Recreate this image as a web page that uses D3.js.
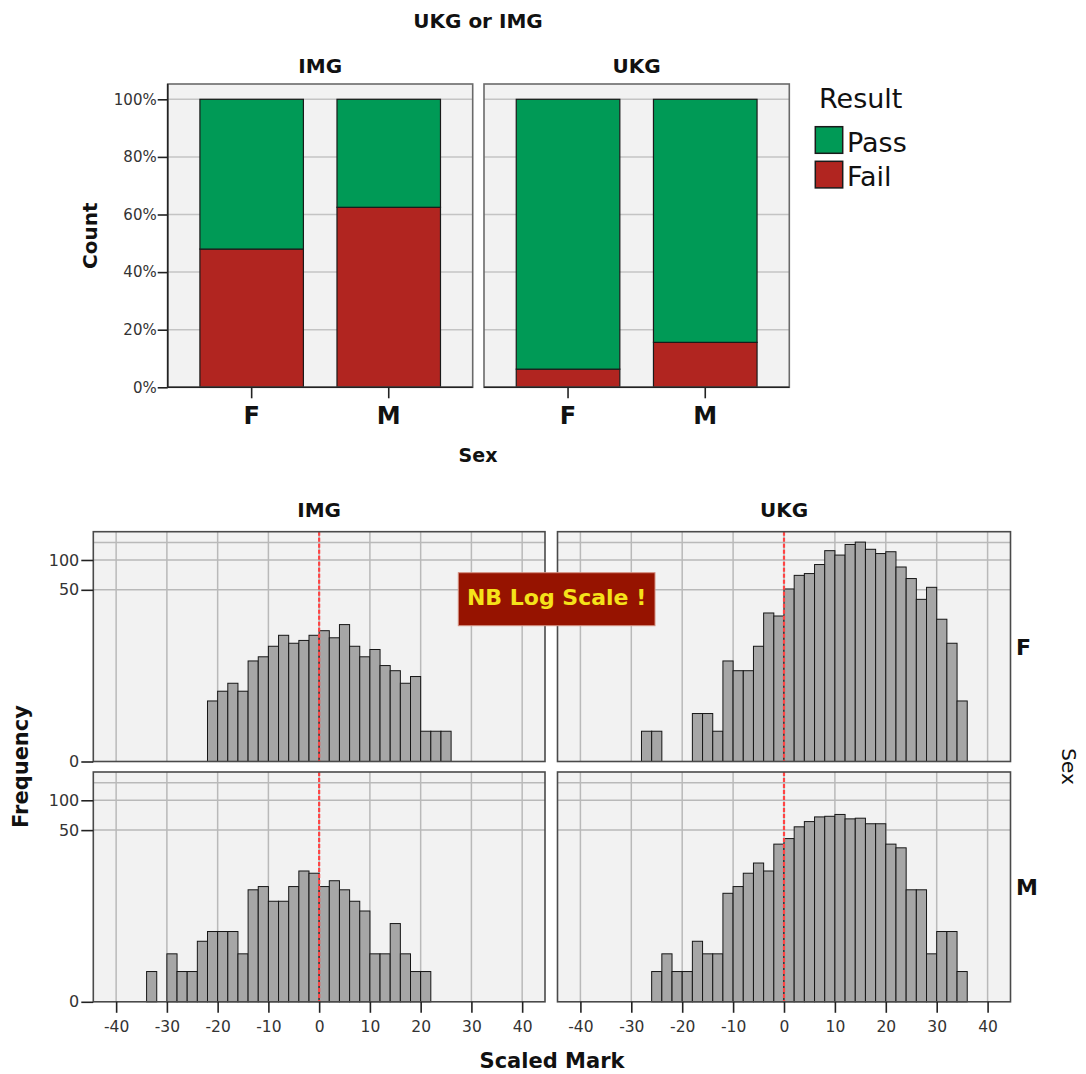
<!DOCTYPE html>
<html>
<head>
<meta charset="utf-8">
<script src="https://cdn.jsdelivr.net/npm/d3@7"></script>
<style>
  html, body { margin: 0; padding: 0; background: #ffffff; }
  svg { display: block; }
  text { font-family: "DejaVu Sans", "Liberation Sans", sans-serif; }
</style>
</head>
<body>
<svg id="chart" width="1086" height="1074"></svg>
<script>
// ---------- Stacked 100% bars: Result by Sex, faceted by UKG / IMG ----------
const groups = ["IMG", "UKG"];
const sexes = ["F", "M"];
const results = ["Pass", "Fail"];
const resultColors = ["#009a56", "#b12520"];
const failShareIMG = [0.48, 0.625];
const failShareUKG = [0.063, 0.156];
const percentTicks = [0, 0.2, 0.4, 0.6, 0.8, 1];
const percentLabels = ["0%", "20%", "40%", "60%", "80%", "100%"];

// ---------- Histograms of Scaled Mark (bins of width 2, lower edges) ----------
const binStarts = [-34, -32, -30, -28, -26, -24, -22, -20, -18, -16, -14, -12, -10, -8, -6, -4, -2,
                   0, 2, 4, 6, 8, 10, 12, 14, 16, 18, 20, 22, 24, 26, 28, 30, 32, 34];
const countsIMG_F = [0, 0, 0, 0, 0, 0, 3, 4, 5, 4, 9, 10, 13, 17, 14, 15, 17,
                     19, 16, 22, 13, 10, 12, 8, 7, 5, 6, 1, 1, 1, 0, 0, 0, 0, 0];
const countsUKG_F = [0, 0, 0, 1, 1, 0, 0, 0, 2, 2, 1, 9, 7, 7, 13, 29, 27,
                     51, 70, 73, 90, 124, 112, 143, 151, 128, 116, 121, 85, 65, 40, 53, 25, 14, 3];
const countsIMG_M = [1, 0, 2, 1, 1, 3, 4, 4, 4, 2, 12, 13, 9, 9, 13, 19, 18,
                     13, 15, 12, 9, 7, 2, 2, 5, 2, 1, 1, 0, 0, 0, 0, 0, 0, 0];
const countsUKG_M = [0, 0, 0, 0, 1, 2, 1, 1, 3, 2, 2, 11, 13, 18, 23, 19, 36,
                     41, 54, 61, 68, 69, 72, 65, 66, 58, 58, 36, 33, 12, 12, 2, 4, 4, 1];
const markTicks = [-40, -30, -20, -10, 0, 10, 20, 30, 40];
const markLabels = ["-40", "-30", "-20", "-10", "0", "10", "20", "30", "40"];
const freqTicks = [0, 50, 100];
const freqLabels = ["0", "50", "100"];
const freqGrid = [50, 100, 150];
const passMark = 0;

const svg = d3.select("#chart");
const PANEL_BG = "#f2f2f2";
const FRAME = "#4a4a4a";
const GRID = "#c4c4c4";

// ================= Top chart =================
const topY0 = 84, topY1 = 387.3;
const yPct = d3.scaleLinear().domain([0, 1]).range([topY1, 99.3]);
const topPanels = [
  { name: groups[0], x0: 167.7, x1: 472.7, fail: failShareIMG },
  { name: groups[1], x0: 484, x1: 789.3, fail: failShareUKG }
];

svg.append("text")
  .attr("x", 478).attr("y", 28)
  .attr("text-anchor", "middle")
  .attr("font-size", 20).attr("font-weight", "bold").attr("fill", "#111")
  .text("UKG or IMG");

topPanels.forEach((p, pi) => {
  const xb = d3.scaleBand().domain(sexes).range([p.x0, p.x1])
    .paddingInner(0.245).paddingOuter(0.235);
  const g = svg.append("g");

  g.append("rect")
    .attr("x", p.x0).attr("y", topY0)
    .attr("width", p.x1 - p.x0).attr("height", topY1 - topY0)
    .attr("fill", PANEL_BG);

  g.selectAll("line.grid").data(percentTicks.slice(1)).join("line")
    .attr("x1", p.x0).attr("x2", p.x1)
    .attr("y1", d => yPct(d)).attr("y2", d => yPct(d))
    .attr("stroke", GRID).attr("stroke-width", 1.5);

  const stacks = sexes.map((s, i) => ({ sex: s, fail: p.fail[i] }));
  // Fail segment at the bottom, Pass above it
  g.selectAll("rect.fail").data(stacks).join("rect")
    .attr("x", d => xb(d.sex)).attr("width", xb.bandwidth())
    .attr("y", d => yPct(d.fail)).attr("height", d => yPct(0) - yPct(d.fail))
    .attr("fill", resultColors[1]).attr("stroke", "#1a1a1a").attr("stroke-width", 1.2);
  g.selectAll("rect.pass").data(stacks).join("rect")
    .attr("x", d => xb(d.sex)).attr("width", xb.bandwidth())
    .attr("y", yPct(1)).attr("height", d => yPct(d.fail) - yPct(1))
    .attr("fill", resultColors[0]).attr("stroke", "#1a1a1a").attr("stroke-width", 1.2);

  g.append("rect")
    .attr("x", p.x0).attr("y", topY0)
    .attr("width", p.x1 - p.x0).attr("height", topY1 - topY0)
    .attr("fill", "none").attr("stroke", "#6a6a6a").attr("stroke-width", 1.6);

  // category axis
  const xa = g.append("g").attr("transform", `translate(0,${topY1})`)
    .call(d3.axisBottom(xb).tickSize(11).tickPadding(9).tickSizeOuter(0));
  xa.select(".domain").attr("stroke", "#222").attr("stroke-width", 1.6)
    .attr("d", `M${p.x0},0H${p.x1}`);
  xa.selectAll(".tick line").attr("stroke", "#222").attr("stroke-width", 1.6);
  xa.selectAll(".tick text").attr("font-size", 24).attr("font-weight", "bold")
    .attr("fill", "#111").attr("font-family", "DejaVu Sans, sans-serif");

  if (pi === 0) {
    const ya = g.append("g").attr("transform", `translate(${p.x0},0)`)
      .call(d3.axisLeft(yPct).tickValues(percentTicks)
        .tickFormat((d, i) => percentLabels[i]).tickSize(10).tickPadding(1).tickSizeOuter(0));
    ya.select(".domain").attr("stroke", "#222").attr("stroke-width", 1.6)
      .attr("d", `M0,${topY0}V${topY1}`);
    ya.selectAll(".tick line").attr("stroke", "#222").attr("stroke-width", 1.6);
    ya.selectAll(".tick text").attr("font-size", 15).attr("fill", "#333")
      .attr("font-family", "DejaVu Sans, sans-serif");
  }

  g.append("text")
    .attr("x", (p.x0 + p.x1) / 2).attr("y", 72.5)
    .attr("text-anchor", "middle")
    .attr("font-size", 20).attr("font-weight", "bold").attr("fill", "#111")
    .text(p.name);
});

svg.append("text")
  .attr("transform", `translate(96.5,${(topY0 + topY1) / 2}) rotate(-90)`)
  .attr("text-anchor", "middle")
  .attr("font-size", 20).attr("font-weight", "bold").attr("fill", "#111")
  .text("Count");

svg.append("text")
  .attr("x", 478).attr("y", 461.5)
  .attr("text-anchor", "middle")
  .attr("font-size", 19).attr("font-weight", "bold").attr("fill", "#111")
  .text("Sex");

// legend
const legend = svg.append("g");
legend.append("text")
  .attr("x", 819).attr("y", 108.3)
  .attr("font-size", 27).attr("fill", "#111")
  .text("Result");
results.forEach((r, i) => {
  const y = 126.7 + i * 34.6;
  legend.append("rect")
    .attr("x", 815.3).attr("y", y).attr("width", 27.4).attr("height", 26.6)
    .attr("fill", resultColors[i]).attr("stroke", "#1a1a1a").attr("stroke-width", 1.5);
  legend.append("text")
    .attr("x", 847).attr("y", y + 25)
    .attr("font-size", 27).attr("fill", "#111")
    .text(r);
});

// ================= Histograms =================
const colsX = [[93.3, 545], [557.5, 1010.5]];
const rowsY = [531.7, 772];
const rowH = 229.8;
const rowSex = ["F", "M"];
const panelCounts = [[countsIMG_F, countsUKG_F], [countsIMG_M, countsUKG_M]];

const yFreq = d3.scaleSymlog().constant(1).domain([0, 192]).range([rowH, 0]);

rowsY.forEach((ry, ri) => {
  colsX.forEach((cx, ci) => {
    const x = d3.scaleLinear().domain([-44.5, 44.5]).range(cx);
    const g = svg.append("g").attr("transform", `translate(0,${ry})`);
    const counts = panelCounts[ri][ci];
    const bins = binStarts.map((b, i) => ({ x0: b, x1: b + 2, n: counts[i] }))
      .filter(d => d.n > 0);

    g.append("rect")
      .attr("x", cx[0]).attr("y", 0)
      .attr("width", cx[1] - cx[0]).attr("height", rowH)
      .attr("fill", PANEL_BG);

    g.selectAll("line.vgrid").data(markTicks).join("line")
      .attr("x1", d => x(d)).attr("x2", d => x(d))
      .attr("y1", 0).attr("y2", rowH)
      .attr("stroke", "#b9b9b9").attr("stroke-width", 1.5);
    g.selectAll("line.hgrid").data(freqGrid).join("line")
      .attr("x1", cx[0]).attr("x2", cx[1])
      .attr("y1", d => yFreq(d)).attr("y2", d => yFreq(d))
      .attr("stroke", "#b9b9b9").attr("stroke-width", 1.5);

    g.selectAll("rect.bar").data(bins).join("rect")
      .attr("x", d => x(d.x0)).attr("width", d => x(d.x1) - x(d.x0))
      .attr("y", d => yFreq(d.n)).attr("height", d => yFreq(0) - yFreq(d.n))
      .attr("fill", "#a6a6a6").attr("stroke", "#161616").attr("stroke-width", 1);

    g.append("line")
      .attr("x1", x(passMark)).attr("x2", x(passMark))
      .attr("y1", 0).attr("y2", rowH)
      .attr("stroke", "#ff4444").attr("stroke-width", 2.2)
      .attr("stroke-dasharray", "4,2");

    g.append("rect")
      .attr("x", cx[0]).attr("y", 0)
      .attr("width", cx[1] - cx[0]).attr("height", rowH)
      .attr("fill", "none").attr("stroke", FRAME).attr("stroke-width", 1.6);

    if (ci === 0) {
      const ya = g.append("g").attr("transform", `translate(${cx[0]},0)`)
        .call(d3.axisLeft(yFreq).tickValues(freqTicks)
          .tickFormat((d, i) => freqLabels[i]).tickSize(12).tickPadding(2).tickSizeOuter(0));
      ya.select(".domain").remove();
      ya.selectAll(".tick line").attr("stroke", "#222").attr("stroke-width", 1.6);
      ya.selectAll(".tick text").attr("font-size", 16).attr("fill", "#333")
        .attr("font-family", "DejaVu Sans, sans-serif");
    }
    if (ri === 1) {
      const xa = g.append("g").attr("transform", `translate(0,${rowH})`)
        .call(d3.axisBottom(x).tickValues(markTicks)
          .tickFormat((d, i) => markLabels[i]).tickSize(11).tickPadding(8).tickSizeOuter(0));
      xa.select(".domain").remove();
      xa.selectAll(".tick line").attr("stroke", "#222").attr("stroke-width", 1.6);
      xa.selectAll(".tick text").attr("font-size", 15.5).attr("fill", "#333")
        .attr("font-family", "DejaVu Sans, sans-serif");
    }
    if (ri === 0) {
      svg.append("text")
        .attr("x", (cx[0] + cx[1]) / 2).attr("y", 517)
        .attr("text-anchor", "middle")
        .attr("font-size", 20).attr("font-weight", "bold").attr("fill", "#111")
        .text(groups[ci]);
    }
    if (ci === 1) {
      svg.append("text")
        .attr("x", 1016).attr("y", ry + rowH / 2 + 8)
        .attr("font-size", 22).attr("font-weight", "bold").attr("fill", "#111")
        .text(rowSex[ri]);
    }
  });
});

svg.append("text")
  .attr("transform", `translate(28,766.5) rotate(-90)`)
  .attr("text-anchor", "middle")
  .attr("font-size", 21).attr("font-weight", "bold").attr("fill", "#111")
  .text("Frequency");

svg.append("text")
  .attr("transform", `translate(1062,766.5) rotate(90)`)
  .attr("text-anchor", "middle")
  .attr("font-size", 20).attr("fill", "#111")
  .text("Sex");

svg.append("text")
  .attr("x", 552).attr("y", 1068)
  .attr("text-anchor", "middle")
  .attr("font-size", 21).attr("font-weight", "bold").attr("fill", "#111")
  .text("Scaled Mark");

// warning banner about the frequency axis
const note = svg.append("g");
note.append("rect")
  .attr("x", 458.3).attr("y", 572.7).attr("width", 196.7).attr("height", 53)
  .attr("fill", "#961300").attr("stroke", "#d49080").attr("stroke-width", 1);
note.append("text")
  .attr("x", 556.6).attr("y", 605)
  .attr("text-anchor", "middle")
  .attr("font-family", "Lato, 'Open Sans', sans-serif")
  .attr("font-size", 22).attr("font-weight", "bold").attr("fill", "#f5e21a")
  .text("NB Log Scale !");
</script>
</body>
</html>
